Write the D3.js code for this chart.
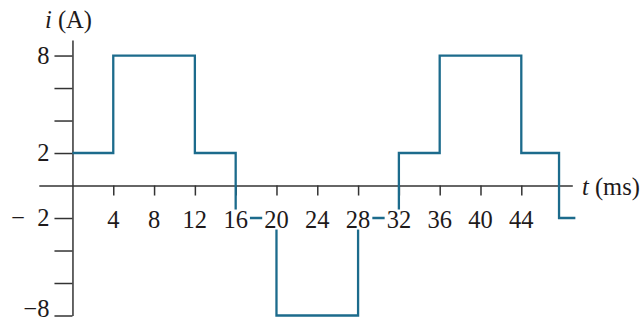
<!DOCTYPE html>
<html>
<head>
<meta charset="utf-8">
<script src="https://cdn.jsdelivr.net/npm/d3@7"></script>
<style>
  body { margin: 0; background: #fff; }
  text { font-family: "Liberation Serif", "Times New Roman", serif; fill: #1e1a1b; }
</style>
</head>
<body>
<div id="chart"></div>
<script>
// step waveform: value holds from stepTimes[i] until stepTimes[i+1]
var stepTimes = [0, 4, 12, 16, 20, 28, 32, 36, 44, 47.7, 49.3];
var stepValues = [2, 8, 2, -2, -8, -2, 2, 8, 2, -2];

var xTicks = [4, 8, 12, 16, 20, 24, 28, 32, 36, 40, 44];
var yTicks = [8, 6, 4, 2, -2, -4, -6, -8];
var yLabels = { '8': '8', '2': '2', '-2': '\u2212\u20022', '-8': '\u22128' };

var pic_width = 642,
    pic_height = 323,
    wave_color = '#1c6b8c',
    axis_color = '#333',
    font_size = 24.5;

var xScale = d3.scaleLinear().domain([-3.3, 49]).range([38.8, 572.3]);
var yScale = d3.scaleLinear().domain([-8, 8.95]).range([315.5, 40.1]);

var svg = d3.select('#chart').append('svg')
    .attr('width', pic_width)
    .attr('height', pic_height);

// x axis (lines only, labels drawn later over the waveform)
var xAxis = d3.axisBottom(xScale)
    .tickValues(xTicks)
    .tickSize(10)
    .tickSizeOuter(0)
    .tickFormat('');

svg.append('g')
    .attr('class', 'x axis')
    .attr('transform', 'translate(0,' + yScale(0) + ')')
    .call(xAxis);

// y axis
var yAxis = d3.axisLeft(yScale)
    .tickValues(yTicks)
    .tickSize(18)
    .tickSizeOuter(0)
    .tickPadding(5)
    .tickFormat(function(d) { return yLabels[String(d)] || ''; });

var yg = svg.append('g')
    .attr('class', 'y axis')
    .attr('transform', 'translate(' + xScale(0) + ',0)')
    .call(yAxis);

svg.selectAll('.axis path, .axis line')
    .attr('stroke', axis_color)
    .attr('stroke-width', 1.5);

yg.selectAll('text')
    .attr('font-size', font_size)
    .attr('font-family', '"Liberation Serif", serif')
    .attr('fill', '#1e1a1b');

// keep the bottom label inside the picture
yg.selectAll('.tick')
    .filter(function(d) { return d === -8; })
    .select('text')
    .attr('dy', '0.05em');

// waveform
var points = stepValues.map(function(v, i) { return [stepTimes[i], v]; });
points.push([stepTimes[stepTimes.length - 1], stepValues[stepValues.length - 1]]);

var line = d3.line()
    .x(function(d) { return xScale(d[0]); })
    .y(function(d) { return yScale(d[1]); })
    .curve(d3.curveStepAfter);

svg.append('path')
    .datum(points)
    .attr('fill', 'none')
    .attr('stroke', wave_color)
    .attr('stroke-width', 2.3)
    .attr('d', line);

// x tick labels with white backing, they hide the waveform under them
var labels = svg.append('g').selectAll('g')
    .data(xTicks)
    .enter().append('g')
    .attr('transform', function(d) { return 'translate(' + xScale(d) + ',' + (yScale(0) + 42) + ')'; });

labels.append('text')
    .attr('text-anchor', 'middle')
    .attr('font-size', font_size)
    .text(function(d) { return d; });

labels.each(function() {
    var g = d3.select(this);
    var bb = g.select('text').node().getBBox();
    g.insert('rect', 'text')
        .attr('x', bb.x - 2)
        .attr('y', -18)
        .attr('width', bb.width + 4)
        .attr('height', 20)
        .attr('fill', '#fff');
});

// axis titles
var yTitle = svg.append('text')
    .attr('x', 45)
    .attr('y', 28)
    .attr('font-size', font_size);
yTitle.append('tspan').attr('font-style', 'italic').text('i');
yTitle.append('tspan').text(' (A)');

var xTitle = svg.append('text')
    .attr('x', 582)
    .attr('y', 195)
    .attr('font-size', font_size);
xTitle.append('tspan').attr('font-style', 'italic').text('t');
xTitle.append('tspan').text(' (ms)');
</script>
</body>
</html>
